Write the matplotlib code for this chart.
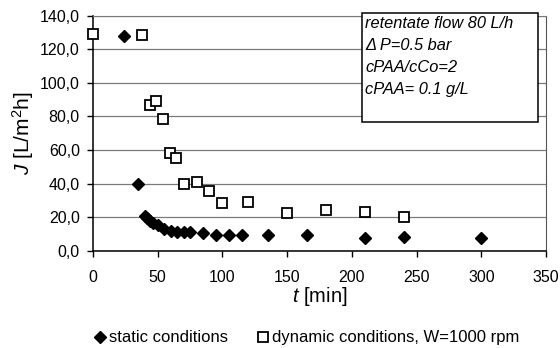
import numpy as np
import matplotlib
matplotlib.use("Agg")
import matplotlib.pyplot as plt
from matplotlib.patches import Rectangle
from matplotlib.ticker import FuncFormatter

plt.rcParams['font.family'] = ['Liberation Sans', 'DejaVu Sans']
plt.rcParams['mathtext.fontset'] = 'custom'
plt.rcParams['mathtext.rm'] = 'Liberation Sans'
plt.rcParams['mathtext.it'] = 'Liberation Sans:italic'

# static conditions (filled diamonds)
static_t = [24, 35, 40, 42, 44, 46.5, 50, 55, 60, 65, 70, 75, 85, 95, 105, 115, 135, 165, 210, 240, 300]
static_J = [128, 40, 21, 19.4, 18, 16.8, 15.4, 13, 12, 11.5, 11.3, 11, 10.5, 9.6, 9.5, 9.4, 9.4, 9.3, 7.6, 8.1, 7.9]

# dynamic conditions, W=1000 rpm (open squares)
dyn_t = [0, 38, 44, 49, 54, 59.5, 64.5, 70, 80, 90, 100, 120, 150, 180, 210, 240]
dyn_J = [128.8, 128.4, 87, 89, 78.6, 58.5, 55.5, 39.7, 41, 35.7, 28.4, 29, 22.8, 24.2, 23.4, 20]

x_ticks = [0, 50, 100, 150, 200, 250, 300, 350]
y_ticks = [0, 20, 40, 60, 80, 100, 120, 140]

info_lines = ["retentate flow 80 L/h", "\u0394 P=0.5 bar", "cPAA/cCo=2", "cPAA= 0.1 g/L"]

fig = plt.figure(figsize=(5.6, 3.48), dpi=100)
ax = fig.add_axes([0.166, 0.279, 0.809, 0.676])

ax.plot(static_t, static_J, linestyle='none', marker='D', markersize=6.5,
        color='black', label='static conditions', zorder=3, clip_on=False)
ax.plot(dyn_t, dyn_J, linestyle='none', marker='s', markersize=7.5,
        markerfacecolor='white', markeredgecolor='black', markeredgewidth=1.3,
        label='dynamic conditions, W=1000 rpm', zorder=3, clip_on=False)

ax.set_xlim(0, 350)
ax.set_ylim(0, 140)
ax.set_xticks(x_ticks)
ax.set_yticks(y_ticks)
ax.yaxis.set_major_formatter(FuncFormatter(lambda v, p: f"{v:.1f}".replace('.', ',')))
ax.tick_params(axis='both', labelsize=11.5, length=4.5, width=1, direction='out')
ax.tick_params(axis='y', pad=5)
ax.tick_params(axis='x', pad=9.5)

ax.grid(axis='y', color='#7a7a7a', linewidth=0.9)
ax.set_axisbelow(True)
for side in ['left', 'bottom']:
    ax.spines[side].set_color('black')
    ax.spines[side].set_linewidth(1.1)
ax.spines['right'].set_color('#555555')
ax.spines['top'].set_color('#7a7a7a')

ax.set_ylabel(r'$J$ [L/m$^2$h]', fontsize=15, labelpad=3)
ax.set_xlabel(r'$t$ [min]', fontsize=14.5, labelpad=0)

# info box with run conditions
box = Rectangle((0.646, 0.649), 0.315, 0.314, transform=fig.transFigure,
                facecolor='white', edgecolor='black', linewidth=1.1, zorder=5)
fig.patches.append(box)
for i, line in enumerate(info_lines):
    fig.text(0.652, 0.933 - i * 0.0635, line, fontsize=11.8, style='italic',
             va='center', ha='left', zorder=6)

fig.legend(loc='center', bbox_to_anchor=(0.545, 0.029), ncol=2, frameon=False,
           fontsize=12, handletextpad=0.05, columnspacing=1.6, handlelength=1.0,
           borderpad=0.1)

fig.savefig('out.png', dpi=100)
